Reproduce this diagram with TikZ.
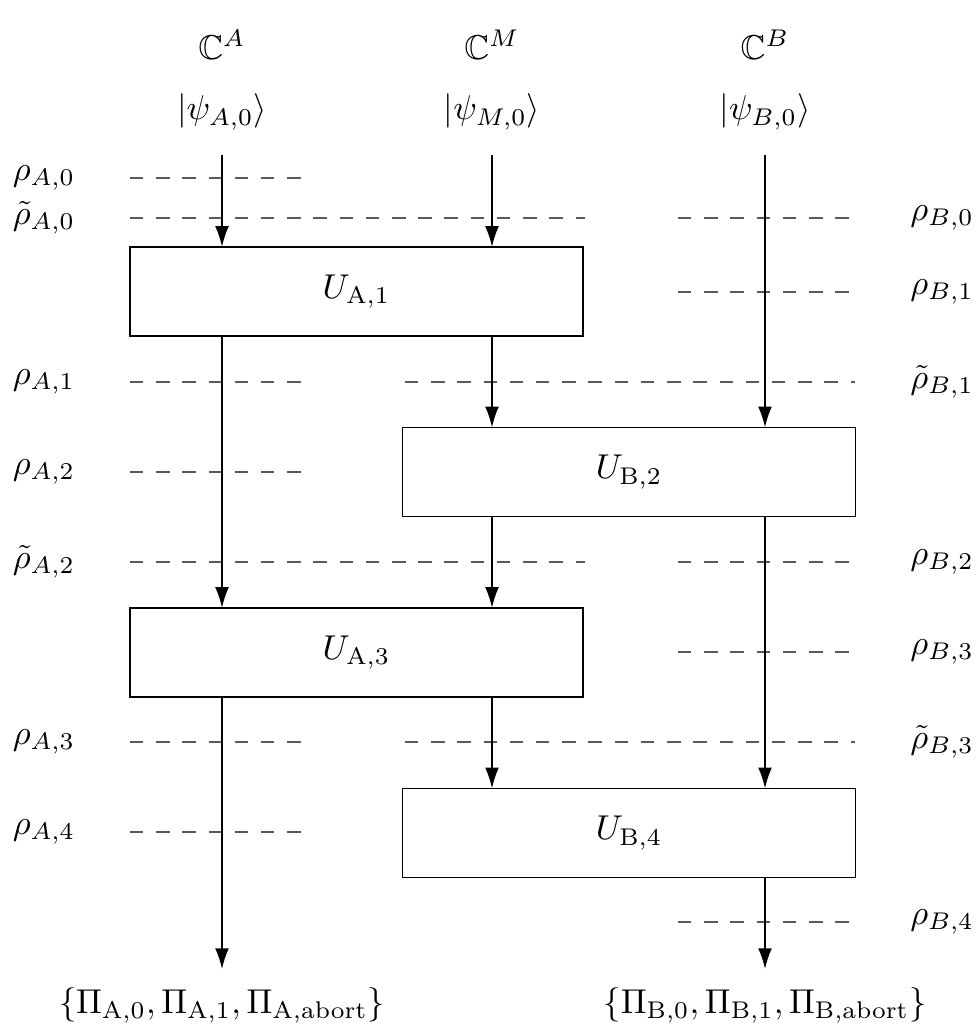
\documentclass[tikz,border=0pt]{standalone}
\usepackage{amsmath,amssymb}
\usetikzlibrary{arrows.meta}
\tikzset{
  ubox/.style={draw,minimum width=131.4pt,minimum height=25.9pt,inner sep=0pt,outer sep=0pt},
  flow/.style={-{Latex[length=6pt,width=4pt]},line width=0.45pt},
  cut/.style={black!65,line width=0.55pt,dash pattern=on 3.9pt off 3.7pt},
}
\begin{document}
\begin{tikzpicture}[x=0.29pt,y=-0.29pt]
\useasboundingbox (0,0) rectangle (977,1034);
% spaces and initial states
\node (ca) at (222,45) {$\mathbb{C}^{A}$};
\node (cm) at (492,45) {$\mathbb{C}^{M}$};
\node (cb) at (765,45) {$\mathbb{C}^{B}$};
\node (psia) at (222,112) {$|\psi_{A,0}\rangle$};
\node (psim) at (492,112) {$|\psi_{M,0}\rangle$};
\node (psib) at (765,112) {$|\psi_{B,0}\rangle$};
\coordinate (sa) at (222,155);
\coordinate (sm) at (492,155);
\coordinate (sb) at (765,155);
% unitaries
\node[ubox] (ua1) at (356.5,291.5) {$U_{\mathrm{A},1}$};
\node[ubox] (ub2) at (629,472) {$U_{\mathrm{B},2}$};
\node[ubox] (ua3) at (356.5,652.5) {$U_{\mathrm{A},3}$};
\node[ubox] (ub4) at (629,833) {$U_{\mathrm{B},4}$};
% measurements
\coordinate (ea) at (222,969);
\coordinate (eb) at (765,969);
\node (pia) at (222,1005) {$\{\Pi_{\mathrm{A},0},\Pi_{\mathrm{A},1},\Pi_{\mathrm{A},\text{abort}}\}$};
\node (pib) at (765,1005) {$\{\Pi_{\mathrm{B},0},\Pi_{\mathrm{B},1},\Pi_{\mathrm{B},\text{abort}}\}$};
% cuts
\foreach \y/\xa/\xb in {178/130/310, 218/130/585, 218/678/855, 292/678/855,
  382/130/310, 382/405/855, 472/130/310, 562/130/585, 562/678/855,
  652/678/855, 742/130/310, 742/405/855, 832/130/310, 922/678/855}
  \draw[cut] (\xa,\y) -- (\xb,\y);
\node (ra0) at (44,178) {$\rho_{A,0}$};
\node (rta0) at (44,218) {$\tilde\rho_{A,0}$};
\node (ra1) at (44,382) {$\rho_{A,1}$};
\node (ra2) at (44,472) {$\rho_{A,2}$};
\node (rta2) at (44,562) {$\tilde\rho_{A,2}$};
\node (ra3) at (44,742) {$\rho_{A,3}$};
\node (ra4) at (44,832) {$\rho_{A,4}$};
\node (rb0) at (942,218) {$\rho_{B,0}$};
\node (rb1) at (942,292) {$\rho_{B,1}$};
\node (rtb1) at (942,382) {$\tilde\rho_{B,1}$};
\node (rb2) at (942,562) {$\rho_{B,2}$};
\node (rb3) at (942,652) {$\rho_{B,3}$};
\node (rtb3) at (942,742) {$\tilde\rho_{B,3}$};
\node (rb4) at (942,922) {$\rho_{B,4}$};
% wires
\draw[flow] (sa) -- (sa |- ua1.north);
\draw[flow] (sm) -- (sm |- ua1.north);
\draw[flow] (sb) -- (sb |- ub2.north);
\draw[flow] (sa |- ua1.south) -- (sa |- ua3.north);
\draw[flow] (sm |- ua1.south) -- (sm |- ub2.north);
\draw[flow] (sm |- ub2.south) -- (sm |- ua3.north);
\draw[flow] (sb |- ub2.south) -- (sb |- ub4.north);
\draw[flow] (sm |- ua3.south) -- (sm |- ub4.north);
\draw[flow] (sa |- ua3.south) -- (ea);
\draw[flow] (sb |- ub4.south) -- (eb);
\end{tikzpicture}
\end{document}
